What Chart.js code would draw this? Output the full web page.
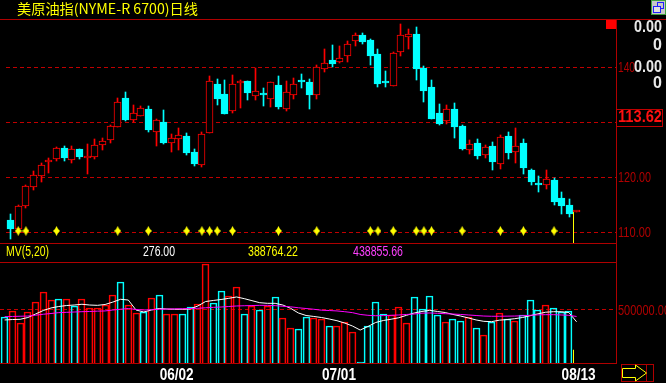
<!DOCTYPE html>
<html>
<head>
<meta charset="utf-8">
<script src="https://cdn.jsdelivr.net/npm/chart.js@4.4.1/dist/chart.umd.min.js"></script>
<style>
html, body { margin: 0; padding: 0; background: #000; overflow: hidden; }
#wrap { position: relative; width: 666px; height: 383px; }
canvas { position: absolute; left: 0; }
#price { top: 0; }
#vol { top: 243px; }
</style>
</head>
<body>
<div id="wrap">
  <canvas id="price" width="666" height="383"></canvas>
  <canvas id="vol" width="666" height="140"></canvas>
</div>
<script>
// 美原油指 日线 data
var opens = [112.18,110.55,114.78,118.24,120.24,122.67,123.20,125.20,123.09,125.09,
  123.40,123.70,125.76,126.67,129.15,134.36,130.42,131.15,132.36,128.13,
  130.00,126.13,126.96,127.45,124.55,122.18,128.05,136.90,135.09,132.05,
  137.15,137.45,134.78,134.95,134.24,136.73,132.42,134.85,137.30,137.27,
  134.96,139.58,141.22,140.85,141.95,144.67,145.82,144.90,142.36,137.09,
  136.60,142.67,145.40,146.00,139.82,136.36,131.64,130.24,132.36,129.33,
  124.96,126.18,124.05,125.64,122.42,127.45,124.60,126.18,121.27,118.60,
  118.60,119.45,116.18,114.90,113.62];
var highs = [113.27,114.85,118.55,121.09,122.49,123.40,125.40,125.60,125.60,125.09,
  126.00,126.90,127.09,129.45,134.36,135.45,133.04,132.91,132.85,130.49,
  132.18,127.82,128.90,127.95,125.04,128.18,138.36,137.80,137.60,138.55,
  137.60,137.45,139.82,136.18,137.20,138.36,137.45,138.00,138.73,137.80,
  140.31,143.27,144.00,143.82,144.73,146.18,146.18,145.09,143.27,139.27,
  142.67,147.82,146.90,147.27,140.18,137.60,133.27,133.10,133.45,129.50,
  126.73,126.90,125.82,126.36,127.64,128.18,128.90,126.90,121.45,120.18,
  121.27,119.82,117.27,116.00,113.80];
var lows = [108.67,110.55,114.42,117.70,119.15,120.67,122.90,122.96,122.49,123.33,
  120.60,123.27,124.96,126.24,129.15,130.18,130.00,131.15,128.13,125.69,
  126.00,124.60,124.96,124.00,122.05,121.82,128.05,133.15,131.50,131.70,
  132.60,134.05,134.05,132.96,132.78,132.42,132.05,134.24,136.24,132.42,
  134.13,139.15,140.05,140.67,140.96,143.82,144.18,140.42,136.42,136.42,
  136.60,142.05,143.20,137.70,133.70,130.60,129.50,129.70,127.15,124.96,
  124.24,123.33,123.50,121.33,121.50,123.33,122.55,120.55,118.55,117.27,
  117.82,114.90,113.27,112.73,113.62];
var closes = [110.60,114.67,118.36,120.36,122.18,122.67,125.20,123.40,125.04,123.70,
  123.40,125.82,126.55,129.27,133.58,130.36,131.58,132.49,128.55,130.31,
  126.24,127.09,127.58,124.42,122.36,127.82,137.40,134.24,131.50,136.90,
  137.15,135.33,135.58,134.90,137.20,132.78,135.45,136.90,137.25,134.96,
  139.95,140.67,140.49,141.64,144.18,145.76,144.60,142.05,136.96,137.04,
  142.49,145.82,146.00,139.70,135.70,130.60,129.70,132.36,129.15,125.15,
  126.00,123.87,125.45,122.78,127.27,124.36,125.64,121.64,119.09,118.55,
  119.64,115.45,114.73,113.27,113.62];
var volumes = [431000,490000,374000,478000,572000,667000,591000,601000,601000,535000,
  601000,516000,516000,544000,639000,761000,544000,470000,481000,613000,
  641000,462000,462000,462000,528000,557000,934000,566000,676000,629000,
  714000,462000,538000,497000,538000,620000,421000,327000,318000,431000,
  421000,412000,349000,349000,387000,292000,8000,349000,575000,462000,
  450000,528000,377000,620000,509000,629000,453000,387000,415000,396000,
  434000,330000,264000,390000,472000,415000,396000,453000,591000,497000,
  544000,516000,481000,490000,276];
var ma5 = [406000,410000,412000,429000,462000,495000,519000,533000,542000,547000,
  554000,547000,544000,552000,575000,601000,594000,500000,481000,500000,
  514000,509000,507000,507000,509000,538000,580000,590000,599000,610000,
  623000,607000,588000,569000,563000,563000,547000,516000,472000,448000,
  439000,429000,415000,399000,377000,349000,311000,344000,382000,401000,
  413000,427000,450000,472000,486000,497000,486000,476000,458000,443000,
  425000,406000,393000,390000,404000,410000,418000,429000,446000,464000,
  479000,484000,484000,476000,388764.22];
var ma20 = [437000,439000,441000,443000,451000,460000,467000,475000,478000,481000,
  484000,486000,489000,491000,500000,507000,514000,505000,500000,503000,
  507000,509000,511000,512000,514000,516000,521000,525000,528000,533000,
  538000,540000,542000,544000,544000,541000,535000,530000,521000,514000,
  507000,498000,495000,491000,484000,475000,458000,450000,446000,447000,
  450000,453000,458000,462000,470000,472000,469000,465000,462000,458000,
  453000,448000,443000,441000,441000,442000,443000,446000,450000,454000,
  456000,456000,453000,450000,438855.66];
var markerIdx = [1,2,6,14,18,23,25,26,27,29,35,40,47,48,50,53,54,55,59,64,67,71];
var markerLevel = 110.2;
var priceGrid = [110, 120, 130, 140];
var priceLabels = [120, 110];
var volGrid = [500000];
var dateIdx = [22, 43, 74];
var dateLabels = ['06/02', '07/01', '08/13'];
var title = '美原油指(NYME-R 6700)日线';

var RED = '#ff0000', CYAN = '#00ffff', GRID = '#c00000', FRAME = '#b00000';
var n = closes.length;
var idx = closes.map(function (c, i) { return i; });
function up(i) { return closes[i] >= opens[i]; }
var candleColor = idx.map(function (i) { return up(i) ? RED : CYAN; });
var last = n - 1;

// small yellow star used for the markers
var star = document.createElement('canvas');
star.width = 7; star.height = 10;
var sc = star.getContext('2d');
sc.fillStyle = '#ffff00';
sc.beginPath();
sc.moveTo(3.5, 0); sc.lineTo(5, 3); sc.lineTo(7, 5); sc.lineTo(5, 7);
sc.lineTo(3.5, 10); sc.lineTo(2, 7); sc.lineTo(0, 5); sc.lineTo(2, 3);
sc.closePath(); sc.fill();

function txt(ctx, s, x, y, color, font, w, align) {
  ctx.save();
  ctx.font = font;
  ctx.fillStyle = color;
  ctx.textBaseline = 'middle';
  ctx.textAlign = align || 'left';
  var k = w ? w / ctx.measureText(s).width : 1;
  ctx.translate(x, y);
  ctx.scale(k, 1);
  ctx.fillText(s, 0, 0);
  ctx.restore();
}
function line(ctx, x1, y1, x2, y2, color) {
  ctx.beginPath(); ctx.moveTo(x1, y1); ctx.lineTo(x2, y2);
  ctx.strokeStyle = color; ctx.lineWidth = 1; ctx.stroke();
}

var NUM = '"Liberation Sans", Arial, sans-serif';

// put bar edges on whole pixels so the thin outlines stay sharp
var snap = {
  id: 'snap',
  beforeDatasetsDraw: function (c) {
    c.getSortedVisibleDatasetMetas().forEach(function (m) {
      if (m.type !== 'bar') return;
      m.data.forEach(function (el) {
        el.x = Math.floor(el.x) + 0.5;
        el.y = Math.round(el.y);
        el.base = Math.round(el.base);
      });
    });
  }
};

var deco = {
  id: 'deco',
  afterDraw: function (c) {
    var ctx = c.ctx, a = c.chartArea, y = c.scales.y, x = c.scales.x;
    // frames
    line(ctx, 0, a.top + 0.5, 666, a.top + 0.5, FRAME);
    line(ctx, a.right + 0.5, a.top, a.right + 0.5, 364, FRAME);
    line(ctx, 0, a.bottom + 0.5, a.right, a.bottom + 0.5, FRAME);
    line(ctx, 0, 262.5, a.right, 262.5, FRAME);
    line(ctx, 0, 363.5, a.right, 363.5, FRAME);
    // title
    txt(ctx, title, 17, 9, '#ffff00', '14px "Noto Sans CJK SC"', 181);
    // red square at top right
    ctx.fillStyle = '#ff0000';
    ctx.fillRect(a.right - 10, a.top + 1, 10, 9);
    // window icon
    ctx.fillStyle = '#c8c8c8'; ctx.fillRect(651, 0, 15, 15);
    ctx.strokeStyle = '#40a040'; ctx.strokeRect(651.5, 0.5, 14, 14);
    ctx.strokeStyle = '#2020ff'; ctx.strokeRect(657.5, 2.5, 6, 6);
    ctx.fillStyle = '#e0e0e0'; ctx.fillRect(654, 6, 6, 6);
    ctx.strokeRect(653.5, 6.5, 7, 6);
    // right side texts
    var W = '#e8e8e8';
    txt(ctx, '0.00', 662, 28, W, 'bold 16px ' + NUM, 28, 'right');
    txt(ctx, '0', 662, 46, W, 'bold 16px ' + NUM, 0, 'right');
    txt(ctx, '140', a.right + 2, y.getPixelForValue(140) + 0.5, FRAME, '15px ' + NUM, 17);
    txt(ctx, '0.00', 662, y.getPixelForValue(140) + 0.5, W, 'bold 16px ' + NUM, 28, 'right');
    txt(ctx, '0', 662, 84, W, 'bold 16px ' + NUM, 0, 'right');
    ctx.strokeStyle = GRID; ctx.strokeRect(a.right + 0.5, 109.5, 46, 17);
    txt(ctx, closes[last].toFixed(2), 662, 118, '#ff1010', 'bold 16px ' + NUM, 44, 'right');
    priceLabels.forEach(function (v) {
      txt(ctx, v.toFixed(2), a.right + 2, y.getPixelForValue(v) + 0.5, FRAME, '15px ' + NUM, 33);
    });
    txt(ctx, volGrid[0].toFixed(2), a.right + 2, 311, FRAME, '15px ' + NUM, 52);
    // MV row
    txt(ctx, 'MV(5,20)', 6, 252, '#ffff00', '15px ' + NUM, 43);
    txt(ctx, volumes[last].toFixed(2), 143, 252, '#ffffff', '15px ' + NUM, 32);
    txt(ctx, ma5[last].toFixed(2), 248, 252, '#ffff00', '15px ' + NUM, 50);
    txt(ctx, ma20[last].toFixed(2), 353, 252, '#ff40ff', '15px ' + NUM, 50);
    // arrow button
    ctx.strokeStyle = FRAME;
    ctx.strokeRect(621.5, 364.5, 32, 17);
    line(ctx, 646.5, 364, 646.5, 382, FRAME);
    ctx.beginPath();
    ctx.moveTo(622.5, 368.5); ctx.lineTo(635.5, 368.5); ctx.lineTo(635.5, 365);
    ctx.lineTo(646.5, 373); ctx.lineTo(635.5, 381); ctx.lineTo(635.5, 377.5);
    ctx.lineTo(622.5, 377.5); ctx.closePath();
    ctx.strokeStyle = '#ffff00'; ctx.stroke();
    // cursor line
    var cx = Math.round(x.getPixelForValue(last - 0.5)) + 0.5;
    line(ctx, cx, y.getPixelForValue(closes[last]), cx, a.bottom, '#ffff00');
  }
};

new Chart(document.getElementById('price').getContext('2d'), {
  type: 'bar',
  data: {
    datasets: [
      {
        type: 'line', showLine: false, order: 0,
        data: markerIdx.map(function (i) { return { x: i, y: markerLevel }; }),
        pointStyle: star, pointRadius: 5
      },
      {
        order: 1, grouped: false, barThickness: 7, minBarLength: 2,
        data: idx.map(function (i) { return { x: i, y: [opens[i], closes[i]] }; }),
        backgroundColor: idx.map(function (i) { return up(i) ? '#000000' : CYAN; }),
        borderColor: candleColor, borderWidth: 1, borderSkipped: false
      },
      {
        order: 2, grouped: false, barThickness: 1,
        data: idx.map(function (i) { return { x: i, y: [lows[i], highs[i]] }; }),
        backgroundColor: candleColor, borderWidth: 0
      }
    ]
  },
  options: {
    responsive: false, animation: false, events: [],
    layout: { padding: { left: 0, right: 50, top: 19, bottom: 140 } },
    plugins: { legend: { display: false }, tooltip: { enabled: false } },
    scales: {
      x: { type: 'linear', min: -0.6, max: 79.1, offset: false, display: false },
      y: {
        position: 'right', min: 108, max: 148.73,
        grid: { color: GRID, drawTicks: false },
        border: { display: false, dash: [4, 3] },
        ticks: { display: false },
        afterBuildTicks: function (s) { s.ticks = priceGrid.map(function (v) { return { value: v }; }); },
        afterFit: function (s) { s.width = 0; }
      }
    }
  },
  plugins: [snap, deco]
});

var volDeco = {
  id: 'volDeco',
  afterDatasetsDraw: function (c) {
    var x = c.scales.x, y = c.scales.y, a = c.chartArea;
    var cx = Math.round(x.getPixelForValue(last - 0.5)) + 0.5;
    line(c.ctx, cx, y.getPixelForValue(125000), cx, a.bottom, '#ffff00');
    // date labels under the x scale ticks
    x.ticks.forEach(function (t, i) {
      txt(c.ctx, dateLabels[i], x.getPixelForValue(t.value) + 2, a.bottom + 13, '#ffffff', 'bold 16px ' + NUM, 34, 'center');
    });
  }
};

new Chart(document.getElementById('vol').getContext('2d'), {
  type: 'bar',
  data: {
    datasets: [
      {
        type: 'line', order: 0, data: idx.map(function (i) { return { x: i, y: ma20[i] }; }),
        borderColor: '#ff00ff', borderWidth: 1, pointRadius: 0, tension: 0
      },
      {
        type: 'line', order: 1, data: idx.map(function (i) { return { x: i, y: ma5[i] }; }),
        borderColor: '#ffffff', borderWidth: 1, pointRadius: 0, tension: 0
      },
      {
        order: 2, grouped: false, barThickness: 7,
        data: idx.map(function (i) { return { x: i, y: volumes[i] }; }),
        backgroundColor: 'rgba(0,0,0,0)', borderColor: candleColor, borderWidth: 1
      }
    ]
  },
  options: {
    responsive: false, animation: false, events: [],
    layout: { padding: { left: 0, right: 50, top: 19, bottom: 0 } },
    plugins: { legend: { display: false }, tooltip: { enabled: false } },
    scales: {
      x: {
        type: 'linear', min: -0.6, max: 79.1, offset: false,
        grid: { display: false, drawTicks: false }, border: { display: false },
        ticks: { display: false },
        afterBuildTicks: function (s) { s.ticks = dateIdx.map(function (v) { return { value: v }; }); },
        afterFit: function (s) { s.height = 20; }
      },
      y: {
        position: 'right', min: 0, max: 952800,
        grid: { color: GRID, drawTicks: false },
        border: { display: false, dash: [4, 3] },
        ticks: { display: false },
        afterBuildTicks: function (s) { s.ticks = volGrid.map(function (v) { return { value: v }; }); },
        afterFit: function (s) { s.width = 0; }
      }
    }
  },
  plugins: [snap, volDeco]
});
</script>
</body>
</html>
